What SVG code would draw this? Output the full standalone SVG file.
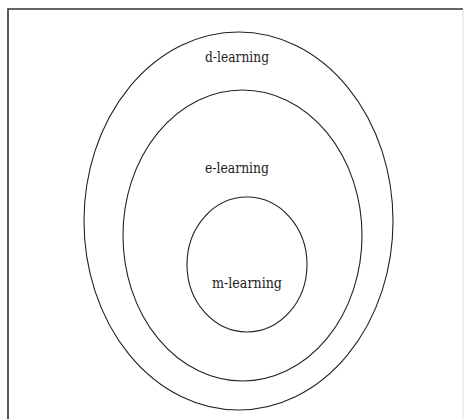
<svg xmlns="http://www.w3.org/2000/svg" width="465" height="419" viewBox="0 0 465 419">
<style>
.ring{fill:none;stroke:#222;stroke-width:1.1}
.lbl{font-family:'DejaVu Serif',serif;font-size:15px;fill:#222;text-anchor:middle}
</style>
<rect x="0" y="0" width="465" height="419" fill="#fff"/>
<path d="M8,425 V9 H463" fill="none" stroke="#333" stroke-width="1.6"/>
<line x1="463" y1="9" x2="463" y2="425" stroke="#ddd" stroke-width="1"/>
<g id="d-learning">
<ellipse class="ring" cx="238.5" cy="221" rx="154.5" ry="189"/>
<text class="lbl" x="237" y="62" textLength="64" lengthAdjust="spacingAndGlyphs">d-learning</text>
</g>
<g id="e-learning">
<ellipse class="ring" cx="242.5" cy="235.5" rx="119.5" ry="145.5"/>
<text class="lbl" x="237" y="173" textLength="64" lengthAdjust="spacingAndGlyphs">e-learning</text>
</g>
<g id="m-learning">
<ellipse class="ring" cx="247" cy="264.5" rx="60" ry="67.5"/>
<text class="lbl" x="247" y="288" textLength="70" lengthAdjust="spacingAndGlyphs">m-learning</text>
</g>
<g id="connectors"/>
</svg>
